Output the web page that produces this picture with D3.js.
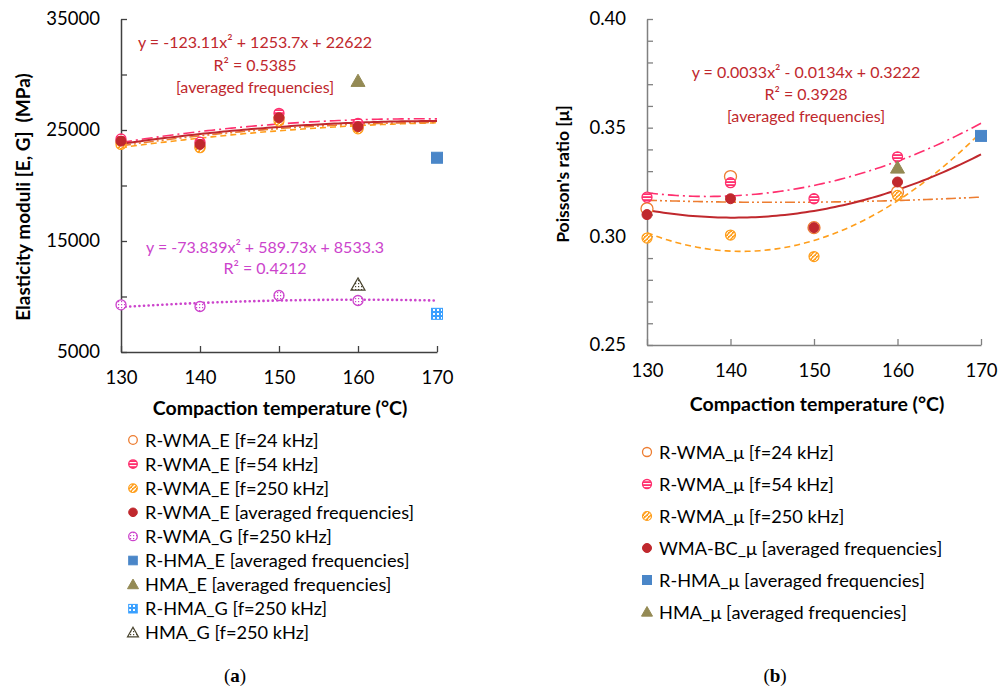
<!DOCTYPE html>
<html>
<head>
<meta charset="utf-8">
<script src="https://cdn.jsdelivr.net/npm/d3@7"></script>
<style>
  body { margin: 0; background: #fff; }
  svg text { font-family: Lato, "Open Sans", sans-serif; white-space: pre; }
</style>
</head>
<body>
<div id="chart"></div>
<script>
!function () {
  'use strict';

  // ---- data ----
  var temps = [130, 140, 150, 160];
  var xTicks = [130, 140, 150, 160, 170];

  // (a) elasticity moduli, MPa
  var eF24 = [23900, 23500, 26100, 25200];
  var eF54 = [24200, 23900, 26500, 25600];
  var eF250 = [23700, 23400, 25800, 25100];
  var eAvg = [24000, 23700, 26100, 25300];
  var gF250 = [9250, 9100, 10090, 9640];
  var rhmaE = [[170, 22500]];
  var hmaE = [[160, 29400]];
  var rhmaG = [[170, 8440]];
  var hmaG = [[160, 11050]];
  var eTicks = [5000, 15000, 25000, 35000];

  // (b) Poisson's ratio
  var muF24 = [0.3127, 0.3275, 0.3040, 0.3204];
  var muF54 = [0.3180, 0.3247, 0.3173, 0.3366];
  var muF250 = [0.2992, 0.3006, 0.2907, 0.3188];
  var muAvg = [0.3100, 0.3173, 0.3040, 0.3250];
  var rhmaMu = [[170, 0.3462]];
  var hmaMu = [[160, 0.3315]];
  var muTicks = [0.25, 0.30, 0.35, 0.40];

  // printed trendline coefficients (x = 1 at 130 °C)
  var fitEAvg = [-123.11, 1253.7, 22622];
  var fitG = [-73.839, 589.73, 8533.3];
  var fitMuAvg = [0.0033, -0.0134, 0.3222];

  var C = {
    red: '#c0282d', pink: '#ff2f6e', orange: '#ed7d31', orange2: '#ff9e1b',
    magenta: '#cc44cc', blue: '#4a86c8', olive: '#948a54', lblue: '#3aa0ff'
  };

  var svg = d3.select('#chart').append('svg')
    .attr('width', 1005).attr('height', 690);

  // ---- marker fill patterns ----
  var defs = svg.append('defs');
  function pattern(id, w, h, bg, draw) {
    var p = defs.append('pattern').attr('id', id)
      .attr('patternUnits', 'userSpaceOnUse').attr('width', w).attr('height', h);
    p.append('rect').attr('width', w).attr('height', h).attr('fill', bg);
    draw(p);
  }
  pattern('pStripe', 4, 3, C.pink, function (p) {
    p.append('rect').attr('y', 0).attr('width', 4).attr('height', 1.2).attr('fill', '#fff');
  });
  pattern('pDiag', 4, 4, C.orange2, function (p) {
    p.append('path').attr('d', 'M-1,5 L5,-1').attr('stroke', '#fff').attr('stroke-width', 1.3);
  });
  pattern('pDots', 3, 3, '#fff', function (p) {
    p.append('rect').attr('x', 1).attr('y', 1).attr('width', 1.2).attr('height', 1.2).attr('fill', C.magenta);
  });
  pattern('pGrid', 4, 4, C.lblue, function (p) {
    p.append('rect').attr('x', 1).attr('y', 1).attr('width', 2).attr('height', 2).attr('fill', '#fff');
  });
  pattern('pTri', 3, 3, '#fff', function (p) {
    p.append('rect').attr('x', 1).attr('y', 1).attr('width', 1.2).attr('height', 1.2).attr('fill', '#4a4530');
  });

  // ---- marker styles ----
  var M = {
    f24: { shape: 'circle', r: 5, fill: '#fff', stroke: C.orange, sw: 1.3 },
    f54: { shape: 'circle', r: 5, fill: 'url(#pStripe)', stroke: C.pink, sw: 1.3 },
    f250: { shape: 'circle', r: 5, fill: 'url(#pDiag)', stroke: C.orange2, sw: 1.2 },
    avg: { shape: 'circle', r: 5, fill: C.red, stroke: C.red, sw: 1 },
    g250: { shape: 'circle', r: 5, fill: 'url(#pDots)', stroke: C.magenta, sw: 1.3 },
    rhma: { shape: 'square', r: 5.5, fill: C.blue, stroke: C.blue, sw: 1 },
    hma: { shape: 'triangle', r: 7, fill: C.olive, stroke: C.olive, sw: 1 },
    rhmaG: { shape: 'square', r: 5.5, fill: 'url(#pGrid)', stroke: C.lblue, sw: 1 },
    hmaG: { shape: 'triangle', r: 7, fill: 'url(#pTri)', stroke: '#4a4530', sw: 1.2 }
  };

  function drawMarker(g, m, x, y) {
    var el;
    if (m.shape === 'circle') {
      el = g.append('circle').attr('cx', x).attr('cy', y).attr('r', m.r);
    } else if (m.shape === 'square') {
      el = g.append('rect').attr('x', x - m.r).attr('y', y - m.r)
        .attr('width', 2 * m.r).attr('height', 2 * m.r);
    } else {
      var s = m.r;
      el = g.append('path').attr('d', 'M' + x + ',' + (y - s) + 'L' + (x + s) + ',' + (y + s * 0.75) +
        'L' + (x - s) + ',' + (y + s * 0.75) + 'Z');
    }
    el.attr('fill', m.fill).attr('stroke', m.stroke).attr('stroke-width', m.sw);
  }

  // least squares quadratic on x = 1..n
  function polyFit(ys) {
    var S = [0, 0, 0, 0, 0], T = [0, 0, 0];
    ys.forEach(function (y, i) {
      var x = i + 1;
      for (var k = 0; k < 5; k++) S[k] += Math.pow(x, k);
      for (var j = 0; j < 3; j++) T[j] += y * Math.pow(x, j);
    });
    var A = [[S[4], S[3], S[2], T[2]], [S[3], S[2], S[1], T[1]], [S[2], S[1], S[0], T[0]]];
    for (var i = 0; i < 3; i++) {
      for (var r = i + 1; r < 3; r++) {
        var f = A[r][i] / A[i][i];
        for (var c = i; c < 4; c++) A[r][c] -= f * A[i][c];
      }
    }
    var sol = [0, 0, 0];
    for (var i2 = 2; i2 >= 0; i2--) {
      var s = A[i2][3];
      for (var c2 = i2 + 1; c2 < 3; c2++) s -= A[i2][c2] * sol[c2];
      sol[i2] = s / A[i2][i2];
    }
    return sol;
  }

  function curve(g, x, y, coef, style) {
    var pts = d3.range(1, 5.001, 0.05).map(function (k) {
      return [130 + (k - 1) * 10, coef[0] * k * k + coef[1] * k + coef[2]];
    });
    g.append('path')
      .datum(pts)
      .attr('d', d3.line().x(function (d) { return x(d[0]); }).y(function (d) { return y(d[1]); }))
      .attr('fill', 'none')
      .attr('stroke', style.color)
      .attr('stroke-width', style.width)
      .attr('stroke-dasharray', style.dash || null)
      .attr('stroke-linecap', style.cap || 'butt');
  }

  function series(g, x, y, vals, m) {
    vals.forEach(function (v, i) { drawMarker(g, m, x(temps[i]), y(v)); });
  }
  function singles(g, x, y, pts, m) {
    pts.forEach(function (p) { drawMarker(g, m, x(p[0]), y(p[1])); });
  }

  function axes(g, x, y, ticksY, minorY, fmt, color) {
    var ax = g.append('g').attr('transform', 'translate(0,' + y.range()[0] + ')')
      .call(d3.axisBottom(x).tickValues(xTicks).tickSizeInner(-6).tickSizeOuter(0).tickPadding(19));
    var ay = g.append('g').attr('transform', 'translate(' + x.range()[0] + ',0)')
      .call(d3.axisLeft(y).tickValues(minorY).tickSizeInner(-6).tickSizeOuter(0).tickPadding(21)
        .tickFormat(function (d) {
          return ticksY.some(function (t) { return Math.abs(t - d) < 1e-9; }) ? fmt(d) : '';
        }));
    [ax, ay].forEach(function (a) {
      a.select('.domain').attr('stroke', color).attr('stroke-width', 1.5);
      a.selectAll('.tick line').attr('stroke', color).attr('stroke-width', 1.3);
      a.selectAll('.tick text').attr('fill', '#000').style('font-size', '18.5px');
    });
    ax.selectAll('.tick text').attr('dy', '0.71em');
  }

  function label(g, x, y, txt, color, size, weight, anchor) {
    return g.append('text').attr('x', x).attr('y', y).text(txt)
      .attr('fill', color).style('font-size', size + 'px')
      .style('font-weight', weight || 'normal')
      .attr('text-anchor', anchor || 'middle');
  }

  // ================= (a) =================
  var xa = d3.scaleLinear().domain([130, 170]).range([121, 437]);
  var ya = d3.scaleLinear().domain([5000, 35000]).range([352, 19]);
  var ga = svg.append('g');

  axes(ga, xa, ya, eTicks, d3.range(5000, 35001, 5000), d3.format('d'), '#404040');

  curve(ga, xa, ya, polyFit(eF250), { color: C.orange2, width: 1.6, dash: '6,4' });
  curve(ga, xa, ya, polyFit(eF24), { color: C.orange, width: 1.6, dash: '10,3,2,3,2,3' });
  curve(ga, xa, ya, polyFit(eF54), { color: C.pink, width: 1.6, dash: '11,4,2,4' });
  curve(ga, xa, ya, fitEAvg, { color: C.red, width: 2 });
  curve(ga, xa, ya, fitG, { color: C.magenta, width: 2.6, dash: '0.1,4.5', cap: 'round' });

  series(ga, xa, ya, eF24, M.f24);
  series(ga, xa, ya, eF250, M.f250);
  series(ga, xa, ya, eF54, M.f54);
  series(ga, xa, ya, eAvg, M.avg);
  series(ga, xa, ya, gF250, M.g250);
  singles(ga, xa, ya, rhmaE, M.rhma);
  singles(ga, xa, ya, hmaE, M.hma);
  singles(ga, xa, ya, rhmaG, M.rhmaG);
  singles(ga, xa, ya, hmaG, M.hmaG);

  label(ga, 255, 48, 'y = -123.11x² + 1253.7x + 22622', C.red, 16);
  label(ga, 255, 71, 'R² = 0.5385', C.red, 16);
  label(ga, 255, 93, '[averaged frequencies]', C.red, 16);
  label(ga, 265, 253, 'y = -73.839x² + 589.73x + 8533.3', C.magenta, 16);
  label(ga, 265, 274, 'R² = 0.4212', C.magenta, 16);

  label(ga, 280, 415, 'Compaction temperature (°C)', '#000', 19.5, 'bold');
  label(ga, 0, 0, 'Elasticity moduli [E, G]  (MPa)', '#000', 19, 'bold')
    .attr('transform', 'translate(30,197) rotate(-90)');

  var legA = [
    [M.f24, 'R-WMA_E [f=24 kHz]'],
    [M.f54, 'R-WMA_E [f=54 kHz]'],
    [M.f250, 'R-WMA_E [f=250 kHz]'],
    [M.avg, 'R-WMA_E [averaged frequencies]'],
    [M.g250, 'R-WMA_G [f=250 kHz]'],
    [M.rhma, 'R-HMA_E [averaged frequencies]'],
    [M.hma, 'HMA_E [averaged frequencies]'],
    [M.rhmaG, 'R-HMA_G [f=250 kHz]'],
    [M.hmaG, 'HMA_G [f=250 kHz]']
  ];
  legA.forEach(function (d, i) {
    var yy = 440 + i * 24.1;
    var m = Object.assign({}, d[0], { r: d[0].shape === 'triangle' ? 5.5 : 4.3 });
    drawMarker(ga, m, 133, yy);
    label(ga, 145, yy + 6.5, d[1], '#000', 18.2, 'normal', 'start');
  });

  // ================= (b) =================
  var xb = d3.scaleLinear().domain([130, 170]).range([647, 981]);
  var yb = d3.scaleLinear().domain([0.25, 0.40]).range([345, 19]);
  var gb = svg.append('g');

  axes(gb, xb, yb, muTicks, d3.range(0, 16).map(function (i) { return 0.25 + i * 0.01; }),
    d3.format('.2f'), '#808080');

  curve(gb, xb, yb, polyFit(muF24), { color: C.orange, width: 1.6, dash: '10,3,2,3,2,3' });
  curve(gb, xb, yb, polyFit(muF250), { color: C.orange2, width: 1.6, dash: '6,4' });
  curve(gb, xb, yb, polyFit(muF54), { color: C.pink, width: 1.6, dash: '11,4,2,4' });
  curve(gb, xb, yb, fitMuAvg, { color: C.red, width: 2 });

  series(gb, xb, yb, muF24, Object.assign({}, M.f24, { r: 6 }));
  series(gb, xb, yb, muF54, M.f54);
  series(gb, xb, yb, muF250, M.f250);
  series(gb, xb, yb, muAvg, M.avg);
  singles(gb, xb, yb, rhmaMu, M.rhma);
  singles(gb, xb, yb, hmaMu, M.hma);

  label(gb, 806, 78, 'y = 0.0033x² - 0.0134x + 0.3222', C.red, 16);
  label(gb, 806, 100, 'R² = 0.3928', C.red, 16);
  label(gb, 806, 122, '[averaged frequencies]', C.red, 16);

  label(gb, 817, 411, 'Compaction temperature (°C)', '#000', 19.5, 'bold');
  label(gb, 0, 0, "Poisson's ratio [μ]", '#000', 17.5, 'bold')
    .attr('transform', 'translate(569,174) rotate(-90)');

  var legB = [
    [M.f24, 'R-WMA_μ [f=24 kHz]'],
    [M.f54, 'R-WMA_μ [f=54 kHz]'],
    [M.f250, 'R-WMA_μ [f=250 kHz]'],
    [M.avg, 'WMA-BC_μ [averaged frequencies]'],
    [M.rhma, 'R-HMA_μ [averaged frequencies]'],
    [M.hma, 'HMA_μ [averaged frequencies]']
  ];
  legB.forEach(function (d, i) {
    var yy = 452 + i * 32;
    var m = Object.assign({}, d[0], { r: d[0].shape === 'triangle' ? 5.5 : 4.5 });
    drawMarker(gb, m, 647, yy);
    label(gb, 659, yy + 6.5, d[1], '#000', 18.2, 'normal', 'start');
  });

  // ---- captions ----
  [[235, 'a'], [775, 'b']].forEach(function (c) {
    var t = svg.append('text').attr('x', c[0]).attr('y', 682).attr('text-anchor', 'middle')
      .style('font-family', '"Liberation Serif", serif').style('font-size', '19px');
    t.append('tspan').text('(');
    t.append('tspan').style('font-weight', 'bold').text(c[1]);
    t.append('tspan').text(')');
  });

}.call(this);
</script>
</body>
</html>
